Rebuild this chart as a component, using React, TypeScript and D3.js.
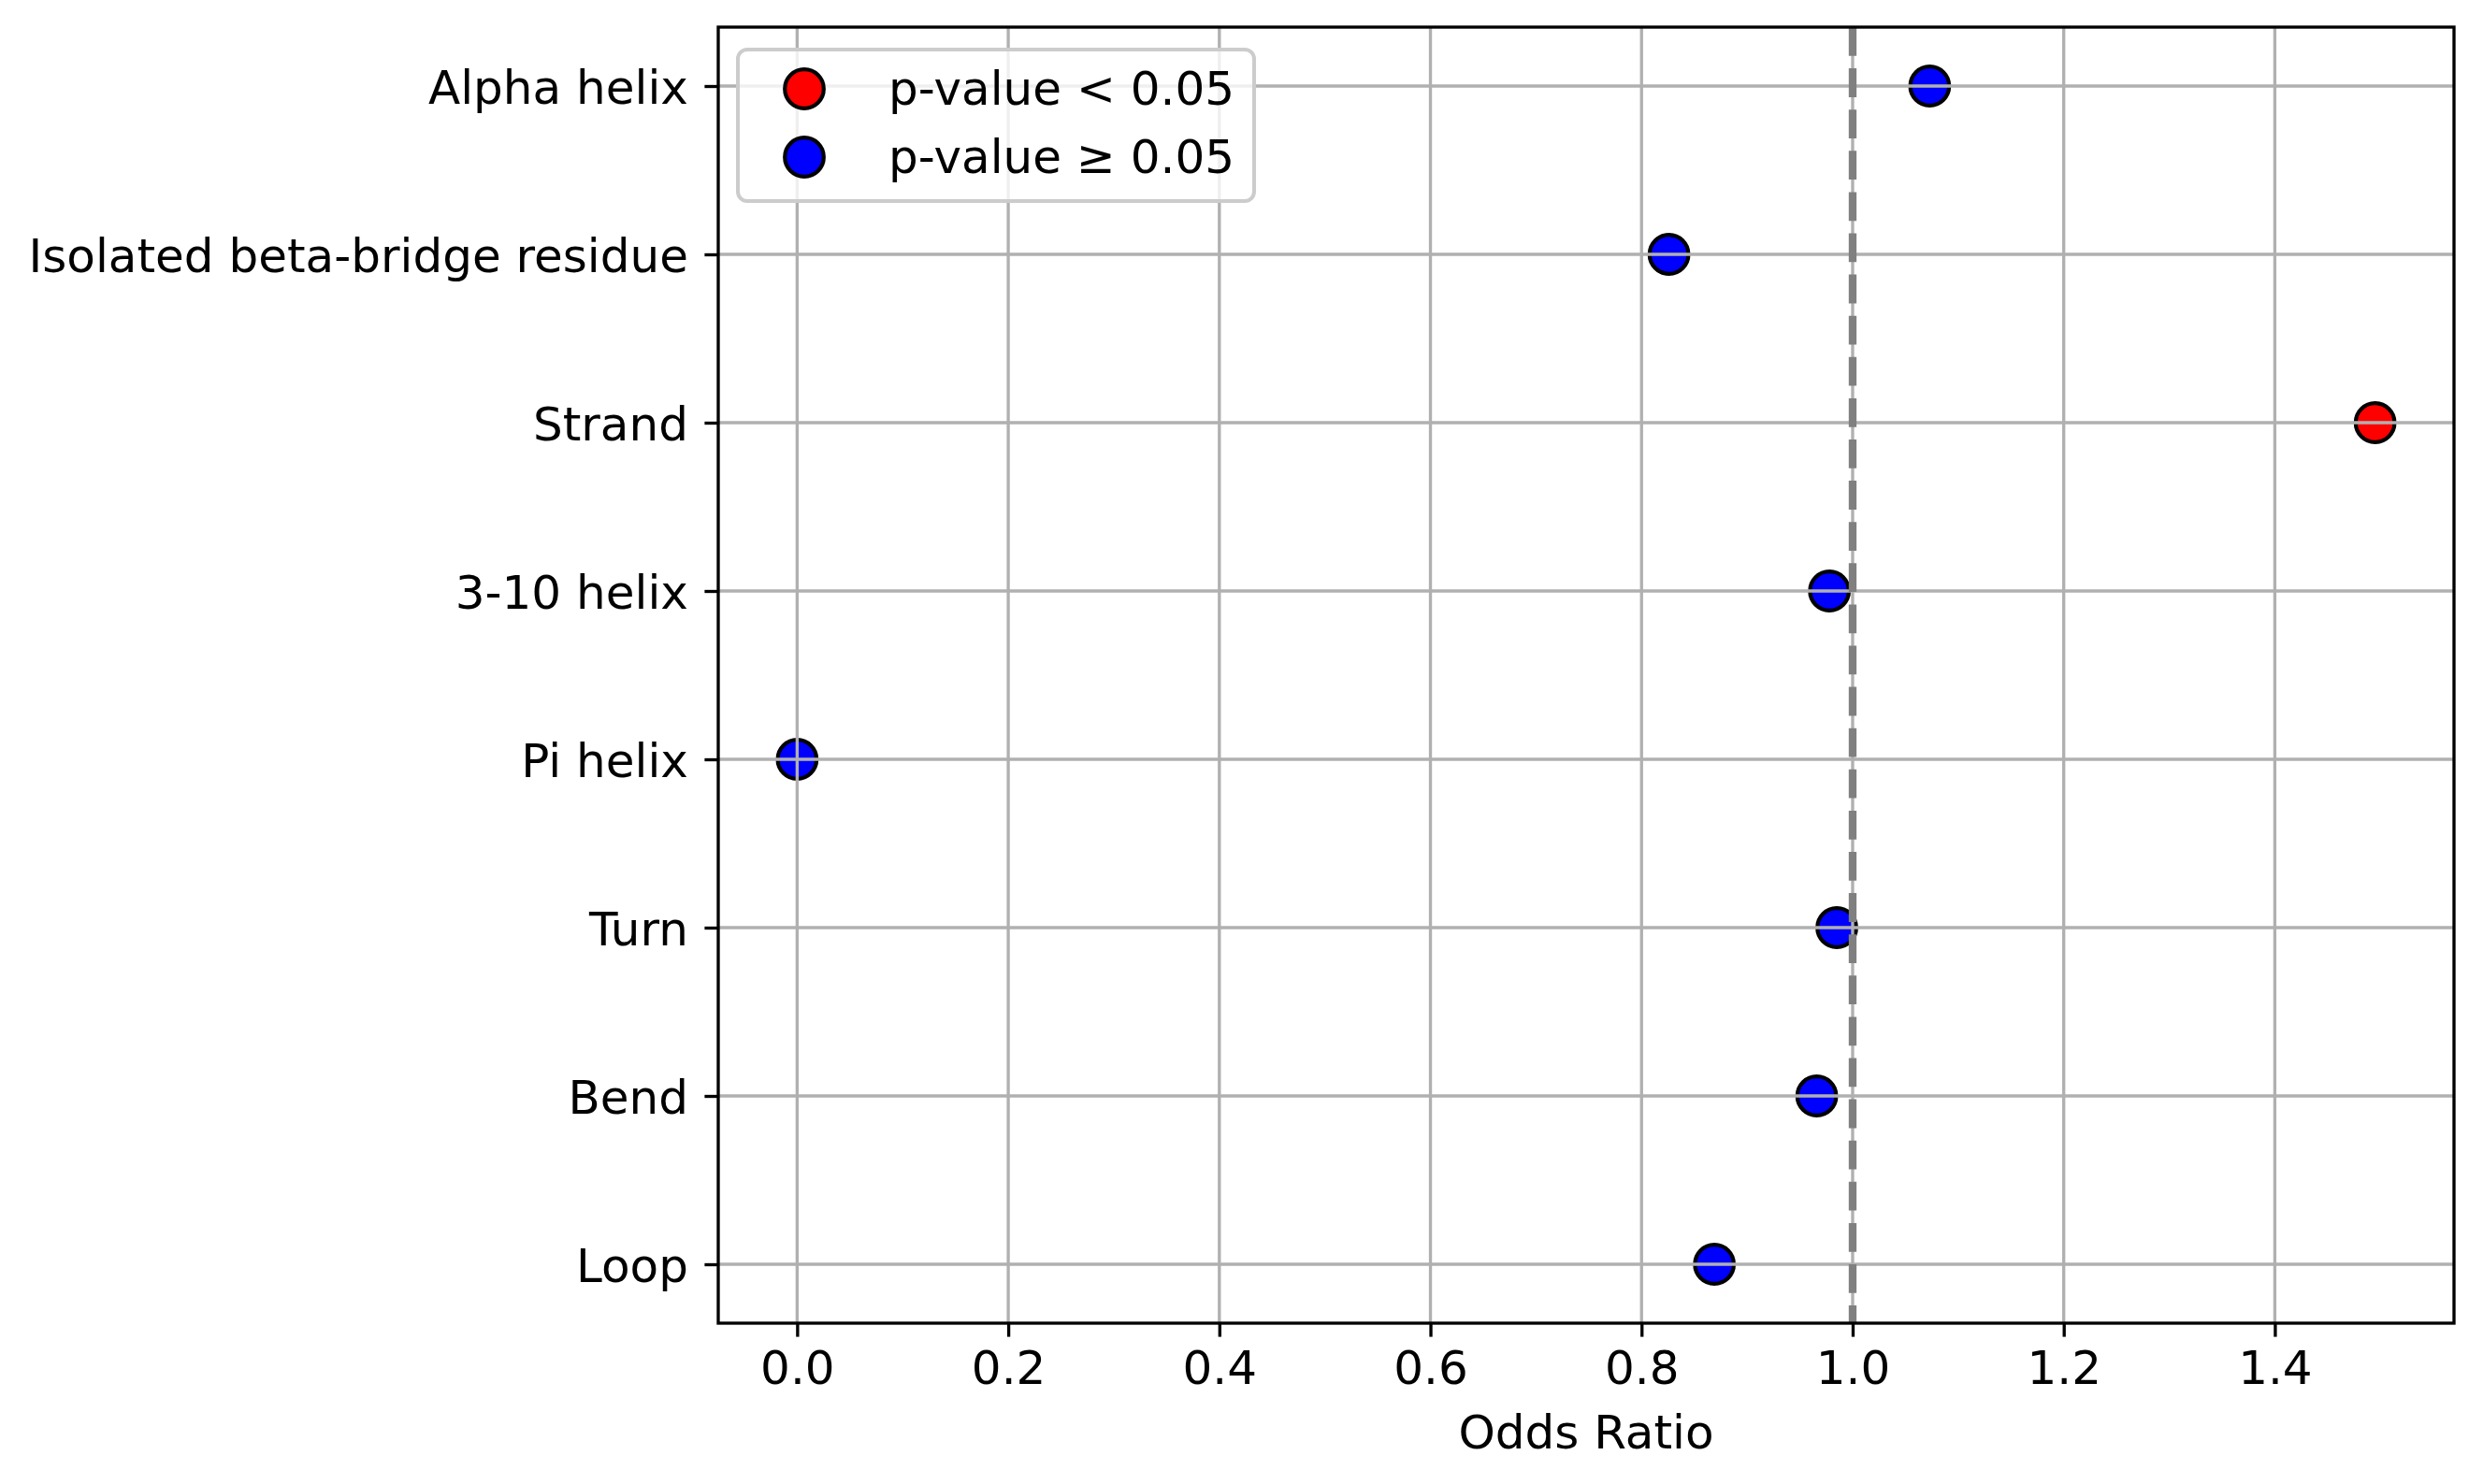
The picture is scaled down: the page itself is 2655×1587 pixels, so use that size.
import React, { useEffect, useRef } from "react";
import * as d3 from "d3";

const CATEGORIES = [
  "Alpha helix",
  "Isolated beta-bridge residue",
  "Strand",
  "3-10 helix",
  "Pi helix",
  "Turn",
  "Bend",
  "Loop",
];
const ODDS_RATIOS = [1.073, 0.826, 1.495, 0.978, 0.0, 0.985, 0.966, 0.869];
const SIGNIFICANT = [false, false, true, false, false, false, false, false];
const X_TICKS = [0, 0.2, 0.4, 0.6, 0.8, 1.0, 1.2, 1.4];
const LEGEND_LABELS = ["p-value < 0.05", "p-value \u2265 0.05"];
const LEGEND_COLORS = ["red", "blue"];

const W = 2655;
const H = 1587;
const FONT = "'DejaVu Sans', sans-serif";

export default function App() {
  const reference = useRef(null);

  useEffect(() => {
    if (!reference.current) return;
    (reference.current as any).innerHTML = "";

    const margin = { top: 29, right: 31, bottom: 172, left: 768 };
    const width = W - margin.left - margin.right,
      height = H - margin.top - margin.bottom;

    const svg = d3
      .select(reference.current)
      .append("g")
      .attr("transform", "translate(" + margin.left + "," + margin.top + ")");

    // matplotlib style 5% margins
    const lo = d3.min(ODDS_RATIOS) as number;
    const hi = d3.max(ODDS_RATIOS) as number;
    const pad = (hi - lo) * 0.05;
    const x = d3.scaleLinear().domain([lo - pad, hi + pad]).range([0, width]);
    const y = d3
      .scalePoint()
      .domain(CATEGORIES)
      .range([0, height])
      .padding(0.35);

    const points = CATEGORIES.map((c, i) => ({
      cat: c,
      value: ODDS_RATIOS[i],
      sig: SIGNIFICANT[i],
    }));

    // scatter (below grid, like matplotlib zorder)
    svg
      .selectAll("circle.pt")
      .data(points)
      .enter()
      .append("circle")
      .attr("class", "pt")
      .attr("cx", (d) => x(d.value))
      .attr("cy", (d) => y(d.cat) as number)
      .attr("r", 20.8)
      .attr("fill", (d) => (d.sig ? "red" : "blue"))
      .attr("stroke", "black")
      .attr("stroke-width", 4.2);

    // grid
    svg
      .selectAll("line.vgrid")
      .data(X_TICKS)
      .enter()
      .append("line")
      .attr("x1", (d) => x(d))
      .attr("x2", (d) => x(d))
      .attr("y1", 0)
      .attr("y2", height)
      .attr("stroke", "#b0b0b0")
      .attr("stroke-width", 3.33);
    svg
      .selectAll("line.hgrid")
      .data(CATEGORIES)
      .enter()
      .append("line")
      .attr("x1", 0)
      .attr("x2", width)
      .attr("y1", (d) => y(d) as number)
      .attr("y2", (d) => y(d) as number)
      .attr("stroke", "#b0b0b0")
      .attr("stroke-width", 3.33);

    // reference line at OR = 1
    svg
      .append("line")
      .attr("x1", x(1))
      .attr("x2", x(1))
      .attr("y1", 0)
      .attr("y2", height)
      .attr("stroke", "gray")
      .attr("stroke-width", 8.33)
      .attr("stroke-dasharray", "30.8,13.3");

    // axes
    const xAxis = svg
      .append("g")
      .attr("transform", "translate(0," + height + ")")
      .call(
        d3
          .axisBottom(x)
          .tickValues(X_TICKS)
          .tickFormat(d3.format(".1f"))
          .tickSize(14.6)
          .tickPadding(14.6),
      );
    const yAxis = svg
      .append("g")
      .call(d3.axisLeft(y).tickSize(14.6).tickPadding(17.5));

    [xAxis, yAxis].forEach((ax) => {
      ax.select(".domain").remove();
      ax.selectAll(".tick line")
        .attr("stroke", "black")
        .attr("stroke-width", 3.33);
      ax.selectAll(".tick text")
        .attr("font-family", FONT)
        .attr("font-size", 50)
        .attr("fill", "black");
    });
    xAxis.selectAll(".tick text").attr("dy", "0.71em");
    yAxis.selectAll(".tick text").attr("dy", "0.37em");

    // frame
    svg
      .append("rect")
      .attr("width", width)
      .attr("height", height)
      .attr("fill", "none")
      .attr("stroke", "black")
      .attr("stroke-width", 3.33);

    svg
      .append("text")
      .attr("x", width / 2)
      .attr("y", height + 134)
      .attr("text-anchor", "middle")
      .attr("font-family", FONT)
      .attr("font-size", 50)
      .text("Odds Ratio");

    // legend
    const lg = svg.append("g").attr("transform", "translate(21,24)");
    lg.append("rect")
      .attr("width", 552)
      .attr("height", 162)
      .attr("rx", 10)
      .attr("fill", "white")
      .attr("fill-opacity", 0.8)
      .attr("stroke", "#cccccc")
      .attr("stroke-width", 4);
    LEGEND_LABELS.forEach((label, i) => {
      const cy = 42 + i * 73;
      lg.append("circle")
        .attr("cx", 71)
        .attr("cy", cy)
        .attr("r", 20.8)
        .attr("fill", LEGEND_COLORS[i])
        .attr("stroke", "black")
        .attr("stroke-width", 4.2);
      lg.append("text")
        .attr("x", 161)
        .attr("y", cy + 17)
        .attr("font-family", FONT)
        .attr("font-size", 50)
        .text(label);
    });
  }, []);

  return (
    <svg
      ref={reference}
      width={W}
      height={H}
      style={{ position: "absolute", left: 0, top: 0, background: "white" }}
    ></svg>
  );
}
